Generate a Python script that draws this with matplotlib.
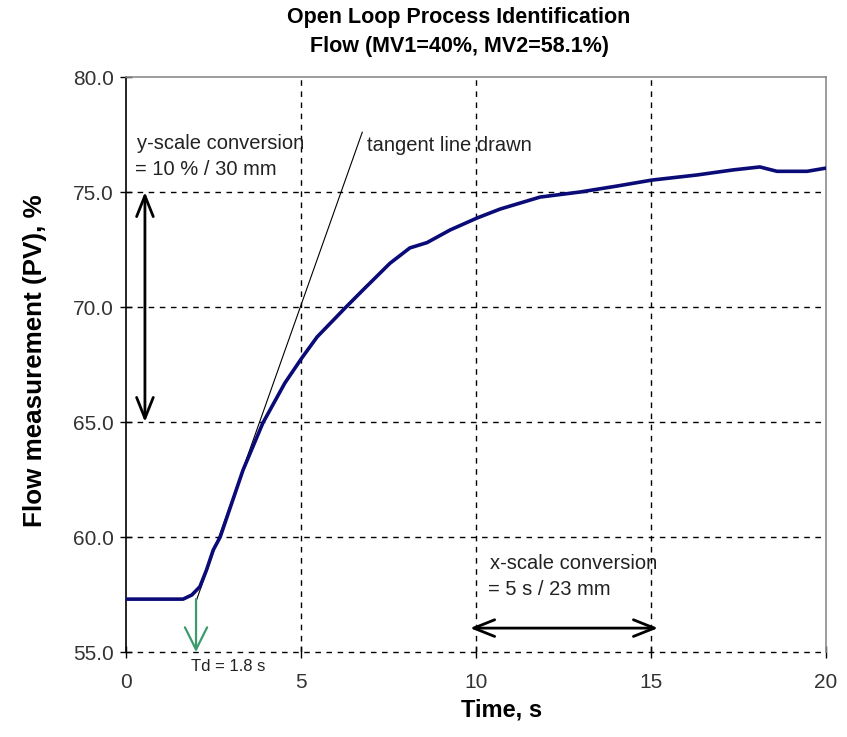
import numpy as np
import matplotlib
matplotlib.use("Agg")
import matplotlib.pyplot as plt

# flow response
time_s = [0, 1.63, 1.88, 2.11, 2.3, 2.49, 2.69, 3.34, 3.91, 4.54, 5.03, 5.46, 6.26, 6.77,
          7.54, 8.11, 8.6, 9.26, 10.03, 10.69, 11.83, 12.97, 14.03, 15.03, 16.31, 17.34,
          18.11, 18.6, 19.46, 20.0]
flow_pv = [57.3, 57.3, 57.48, 57.84, 58.57, 59.43, 60.0, 62.9, 64.96, 66.7, 67.8, 68.7, 69.96, 70.74,
           71.9, 72.57, 72.8, 73.35, 73.87, 74.26, 74.78, 75.0, 75.26, 75.52, 75.74, 75.96,
           76.09, 75.9, 75.9, 76.04]

# tangent line end points
tangent_t = [2.0, 6.75]
tangent_pv = [57.2, 77.6]

td = 2.0
x_ticks = [0, 5, 10, 15, 20]
y_ticks = [55, 60, 65, 70, 75, 80]
y_tick_labels = ["55.0", "60.0", "65.0", "70.0", "75.0", "80.0"]

plt.rcParams['font.family'] = ['Liberation Sans', 'DejaVu Sans']

fig = plt.figure(figsize=(8.47, 7.37), dpi=100)
ax = fig.add_axes([0.1488, 0.1153, 0.8264, 0.7802])

ax.set_xlim(0, 20)
ax.set_ylim(55, 80)

# dashed grid
for y in y_ticks[:-1]:
    ax.axhline(y, color='black', lw=1.0, ls=(0, (4, 4)), zorder=1, clip_on=False)
for x in x_ticks[1:-1]:
    ax.axvline(x, color='black', lw=1.0, ls=(0, (4, 4)), zorder=1)

ax.spines['bottom'].set_visible(False)
ax.spines['left'].set_color('black')
ax.spines['top'].set_color('#8c8c8c')
ax.spines['right'].set_color('#8c8c8c')
for s in ax.spines.values():
    s.set_linewidth(1.2)

ax.set_xticks(x_ticks)
ax.set_yticks(y_ticks)
ax.set_yticklabels(y_tick_labels)
ax.tick_params(axis='both', direction='inout', length=8, width=1.0, labelsize=15, colors='black')
ax.tick_params(axis='y', pad=5)
ax.tick_params(axis='x', pad=11)
for lab in ax.get_xticklabels() + ax.get_yticklabels():
    lab.set_color('#333333')

ax.plot(time_s, flow_pv, color='#0b0b78', lw=2.6, zorder=4)
ax.plot(tangent_t, tangent_pv, color='black', lw=0.8, zorder=3)

# scale arrows
ax.annotate('', xy=(0.54, 65), xytext=(0.54, 75),
            arrowprops=dict(arrowstyle='<->,head_length=0.75,head_width=0.3', lw=2,
                            color='black', shrinkA=0, shrinkB=0, mutation_scale=20))
ax.annotate('', xy=(15.2, 56.04), xytext=(9.83, 56.04),
            arrowprops=dict(arrowstyle='<->,head_length=0.75,head_width=0.3', lw=2,
                            color='black', shrinkA=0, shrinkB=0, mutation_scale=20))
ax.annotate('', xy=(td, 55), xytext=(td, 57.3),
            arrowprops=dict(arrowstyle='->,head_length=0.8,head_width=0.4', lw=1.6,
                            color='#3c9a6c', shrinkA=0, shrinkB=0, mutation_scale=20),
            annotation_clip=False)

ax.text(0.31, 77.13, "y-scale conversion", fontsize=14.5, va='center', ha='left', color='#222222')
ax.text(0.25, 75.96, "= 10 % / 30 mm", fontsize=14.5, va='center', ha='left', color='#222222')
ax.text(6.89, 77.04, "tangent line drawn", fontsize=14.5, va='center', ha='left', color='#222222')
ax.text(10.4, 58.87, "x-scale conversion", fontsize=14.5, va='center', ha='left', color='#222222')
ax.text(10.35, 57.7, "= 5 s / 23 mm", fontsize=14.5, va='center', ha='left', color='#222222')
ax.text(1.86, 54.35, "Td = 1.8 s", fontsize=12, va='center', ha='left', color='#222222', clip_on=False)

fig.text(459 / 847, 1 - 32 / 737, "Open Loop Process Identification\nFlow (MV1=40%, MV2=58.1%)",
         ha='center', va='center', fontsize=15.5, fontweight='bold', linespacing=1.45)
fig.text(502 / 847, 1 - 710 / 737, "Time, s", ha='center', va='center', fontsize=17, fontweight='bold')
fig.text(35 / 847, 1 - 361 / 737, "Flow measurement (PV), %", ha='center', va='center',
         fontsize=18.7, fontweight='bold', rotation=90)

fig.savefig("out.png", dpi=100)
